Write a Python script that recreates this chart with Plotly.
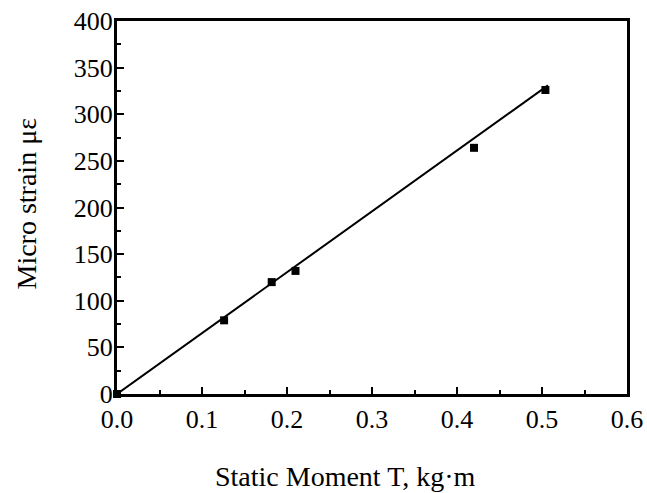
import plotly.graph_objects as go

# Measured points: static moment (kg·m) vs micro strain (µε)
moment = [0.0, 0.126, 0.182, 0.210, 0.420, 0.504]
strain = [0, 79, 120, 132, 264, 326]

# Linear fit line through the origin
fit_moment = [0.0, 0.507]
fit_strain = [0, 331]

x_ticks = [0.0, 0.1, 0.2, 0.3, 0.4, 0.5, 0.6]
y_ticks = [0, 50, 100, 150, 200, 250, 300, 350, 400]

x_title = "Static Moment T, kg·m"
y_title = "Micro strain με"

font = "Liberation Serif"

fig = go.Figure()
fig.add_trace(go.Scatter(
    x=fit_moment, y=fit_strain, mode="lines",
    line=dict(color="black", width=2), showlegend=False, cliponaxis=False,
))
fig.add_trace(go.Scatter(
    x=moment, y=strain, mode="markers",
    marker=dict(symbol="square", size=8, color="black"),
    showlegend=False, cliponaxis=False,
))

axis_common = dict(
    showgrid=False, zeroline=False, showline=True, linecolor="black",
    linewidth=3, mirror=True, ticks="inside", tickcolor="black",
    tickwidth=2, ticklen=7, automargin=False,
    tickfont=dict(family=font, size=26, color="black"),
)

fig.update_xaxes(
    range=[0, 0.6], tickvals=x_ticks, ticktext=[f"{v:.1f}" for v in x_ticks],
    minor=dict(ticks="inside", dtick=0.05, ticklen=4, tickwidth=2, tickcolor="black"),
    ticklabelstandoff=0,
    **axis_common,
)
fig.update_yaxes(
    range=[0, 400], tickvals=y_ticks,
    minor=dict(ticks="inside", dtick=25, ticklen=4, tickwidth=2, tickcolor="black"),
    ticklabelstandoff=-4,
    **axis_common,
)

# Axis titles placed as annotations relative to the plotting area
title_font = dict(family=font, size=28, color="black")
fig.add_annotation(
    text=x_title, xref="paper", yref="paper", x=0.447, y=-0.22,
    showarrow=False, font=title_font, xanchor="center", yanchor="middle",
)
fig.add_annotation(
    text=y_title, xref="paper", yref="paper", x=-0.177, y=0.51,
    showarrow=False, font=title_font, textangle=-90,
    xanchor="center", yanchor="middle",
)

fig.update_layout(
    width=647, height=493,
    margin=dict(l=117, r=20, t=21, b=99),
    plot_bgcolor="white", paper_bgcolor="white",
)

fig.write_html("out.html")
